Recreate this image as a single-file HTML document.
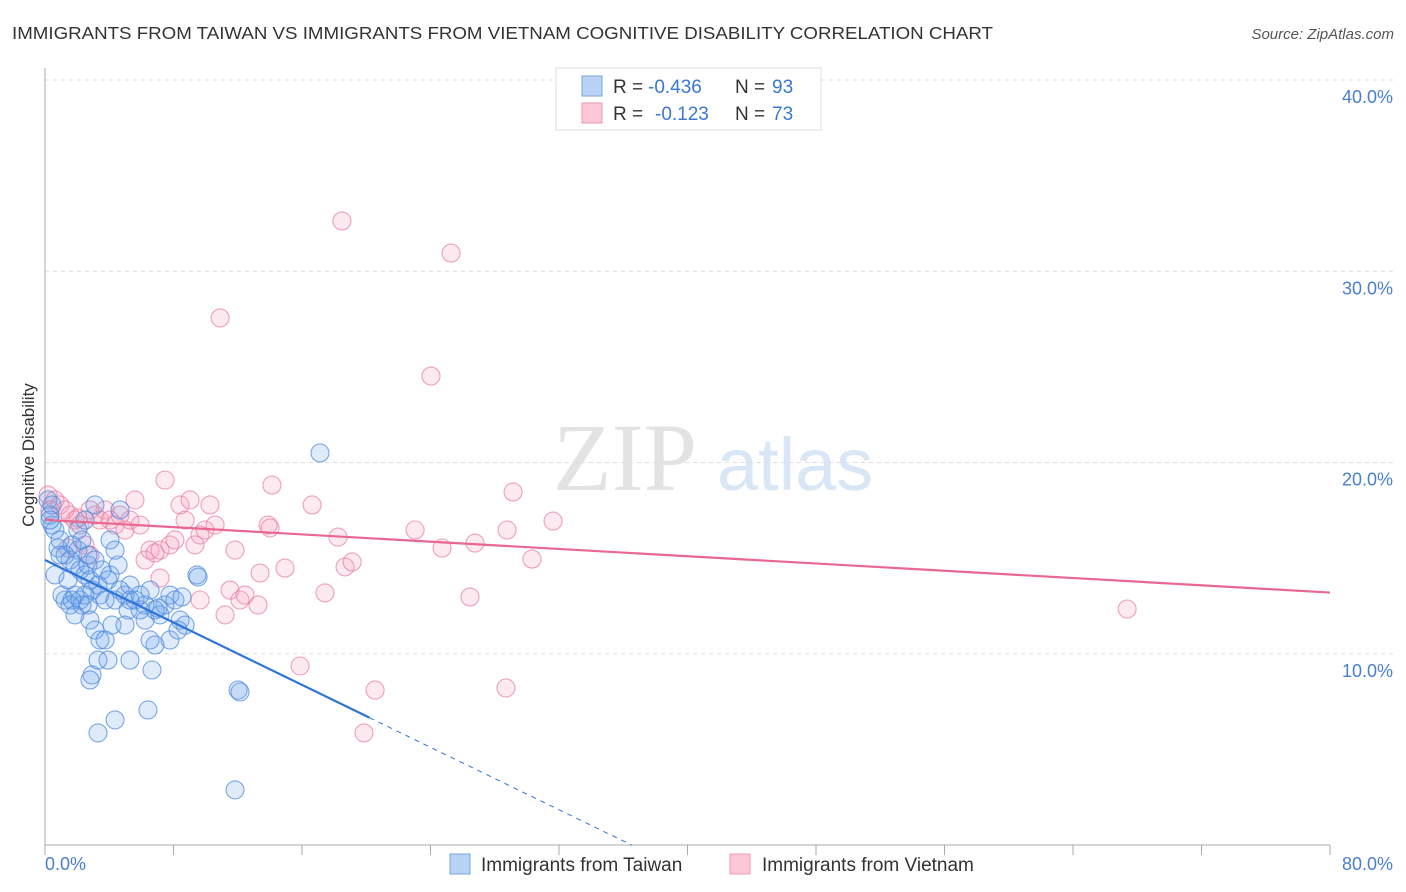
<!DOCTYPE html>
<html><head><meta charset="utf-8"><style>
body{margin:0;background:#fff;font-family:"Liberation Sans",sans-serif}
</style></head><body>
<svg id="chart" width="1406" height="892" xmlns="http://www.w3.org/2000/svg" style="display:block">
<text x="12" y="39" font-size="17.5" fill="#333" textLength="981" lengthAdjust="spacingAndGlyphs">IMMIGRANTS FROM TAIWAN VS IMMIGRANTS FROM VIETNAM COGNITIVE DISABILITY CORRELATION CHART</text>
<text x="1394" y="39" font-size="15" fill="#555" font-style="italic" text-anchor="end">Source: ZipAtlas.com</text>
<g>
<text x="553" y="490" font-family="Liberation Serif,serif" font-size="96" fill="#e3e3e3">ZIP</text>
<text x="717" y="490" font-size="74" fill="#d8e6f5">atlas</text>
</g>
<g id="grid"></g>
<g id="axes"></g>
<g id="pts"></g>
<g id="lines"></g>
<text transform="translate(34,455) rotate(-90)" font-size="17" fill="#333" text-anchor="middle">Cognitive Disability</text>
<g>
<rect x="556" y="68" width="265" height="62" fill="#fff" stroke="#ddd"/>
<rect x="582" y="76" width="20" height="20" fill="#b8d3f5" stroke="#7aa7e0"/>
<rect x="582" y="103" width="20" height="20" fill="#fcc7d6" stroke="#ec9ab3"/>
<text x="613" y="93" font-size="19" fill="#333">R =</text>
<text x="648" y="93" font-size="19" fill="#3a78d4">-0.436</text>
<text x="735" y="93" font-size="19" fill="#333">N =</text>
<text x="772" y="93" font-size="19" fill="#3a78d4">93</text>
<text x="613" y="120" font-size="19" fill="#333">R =</text>
<text x="655" y="120" font-size="19" fill="#3a78d4">-0.123</text>
<text x="735" y="120" font-size="19" fill="#333">N =</text>
<text x="772" y="120" font-size="19" fill="#3a78d4">73</text>
</g>
<g>
<rect x="450" y="854" width="20" height="20" fill="#b8d3f5" stroke="#7aa7e0"/>
<text x="481" y="871" font-size="19" fill="#333">Immigrants from Taiwan</text>
<rect x="730" y="854" width="20" height="20" fill="#fcc7d6" stroke="#ec9ab3"/>
<text x="762" y="871" font-size="19" fill="#333">Immigrants from Vietnam</text>
</g>
</svg>
<script>
const yTicks=[10,20,30,40];
const yTickLabels=["10.0%","20.0%","30.0%","40.0%"];
const xTicks=[0,8,16,24,32,40,48,56,64,72,80];
const taiwanX=[0.19,0.31,0.44,0.62,0.81,0.93,1.25,1.56,1.68,1.87,2.05,2.18,2.49,2.68,2.8,2.93,3.11,3.3,3.42,3.55,3.74,3.92,4.05,4.36,4.55,4.67,4.98,5.17,5.29,5.6,5.92,6.23,6.54,6.85,7.16,7.47,7.78,8.09,8.41,8.72,1.06,1.25,1.56,1.87,2.18,2.3,2.49,2.68,2.8,3.11,3.42,3.74,3.92,3.3,4.17,4.98,5.29,6.54,6.85,6.66,2.93,2.8,4.36,3.3,6.41,12.02,12.14,11.83,17.12,9.46,9.53,6.23,4.67,0.93,0.62,1.43,1.68,2.05,2.3,2.68,2.49,3.11,4.05,4.36,7.78,1.87,0.44,0.31,5.29,5.92,8.28,8.53,7.04];
const taiwanY=[18.04,17.25,16.73,16.47,15.53,15.95,15.16,14.9,15.69,14.64,15.42,14.38,14.12,14.64,13.86,13.33,14.9,13.59,13.07,14.38,12.81,13.86,14.12,12.81,14.64,13.33,13.07,12.29,13.59,12.81,12.29,11.76,13.33,12.29,12.03,12.55,13.07,12.81,11.76,11.5,13.07,12.81,12.55,13.07,12.81,12.55,13.07,12.55,11.76,11.24,10.72,10.72,9.67,9.67,11.5,11.5,9.67,10.72,10.46,9.15,8.89,8.63,6.54,5.86,7.06,8.1,8.0,2.88,20.5,14.12,14.01,12.55,17.52,15.16,14.12,13.86,12.81,16.47,15.95,15.16,16.99,17.78,15.95,15.42,10.72,12.03,17.78,16.99,12.81,13.07,11.24,12.97,12.39];
const vietnamX=[0.19,0.62,0.93,1.25,1.56,1.87,2.18,2.49,2.8,3.11,3.42,3.74,4.05,4.36,4.67,4.98,5.29,5.6,5.92,6.23,6.54,6.85,7.16,7.47,7.78,8.09,8.41,8.72,9.03,9.34,9.65,9.96,10.27,10.59,10.9,11.21,11.52,11.83,12.14,12.45,13.26,13.39,13.89,14.01,14.13,14.94,15.88,16.63,17.43,18.24,18.49,18.68,19.12,20.55,19.86,23.04,24.03,24.72,25.28,26.46,26.77,28.7,28.77,29.14,30.32,31.63,67.37,7.16,9.65,1.43,2.05,2.8,0.31];
const vietnamY=[18.3,18.04,17.78,17.52,17.25,16.99,16.73,15.69,15.16,17.25,16.99,17.52,16.99,16.73,17.25,16.47,16.99,18.04,16.73,14.9,15.42,15.27,15.42,19.08,15.69,15.95,17.78,16.99,18.04,15.69,16.21,16.47,17.78,16.73,27.56,12.03,13.33,15.42,12.81,13.07,12.55,14.22,16.73,16.58,18.82,14.48,9.36,17.78,13.18,16.1,32.63,14.54,14.8,8.1,5.86,16.47,24.52,15.53,30.95,12.97,15.79,8.21,16.47,18.46,14.95,16.94,12.34,13.96,12.81,15.53,17.1,17.52,17.52];
const taiwanTrend=[14.9,-0.408];
const vietnamTrend=[17.0,-0.0475];
const NS="http://www.w3.org/2000/svg";
const X0=45,X1=1330,Y0=845,PXY=19.125;
const sx=v=>X0+(X1-X0)*v/80, sy=v=>Y0-v*PXY;
function mk(tag,attrs,parent){const e=document.createElementNS(NS,tag);for(const k in attrs)e.setAttribute(k,attrs[k]);document.getElementById(parent).appendChild(e);return e;}
yTicks.forEach((t,i)=>{
 const l=mk('line',{x1:X0,x2:1393,y1:sy(t),y2:sy(t),stroke:'#ddd','stroke-dasharray':'4,4'},'grid');
 
 
 const tx=mk('text',{x:1393,y:sy(t)+23,'font-size':18,fill:'#4a7fd0','text-anchor':'end'},'grid');
 tx.textContent=yTickLabels[i];
 
 
});
const ax=mk('line',{x1:X0,x2:X0,y1:68,y2:Y0,stroke:'#aaa'},'axes');


const bx=mk('line',{x1:X0,x2:X1,y1:Y0,y2:Y0,stroke:'#aaa'},'axes');


xTicks.forEach(t=>{
 const l=mk('line',{x1:sx(t),x2:sx(t),y1:Y0,y2:Y0+10,stroke:'#aaa'},'axes');
 
 
});
const xl0=mk('text',{x:45,y:870,'font-size':18,fill:'#4a7fd0'},'axes');xl0.textContent='0.0%';


const xl1=mk('text',{x:1393,y:870,'font-size':18,fill:'#4a7fd0','text-anchor':'end'},'axes');xl1.textContent='80.0%';


function dots(xs,ys,fill,stroke,name){xs.forEach((x,i)=>{
 const c=mk('circle',{cx:sx(x),cy:sy(ys[i]),r:9,fill:fill,stroke:stroke,'stroke-width':1.1},'pts');
 
 
});}
dots(vietnamX,vietnamY,'rgba(245,160,190,0.22)','rgba(232,130,165,0.75)','vietnam-point');
dots(taiwanX,taiwanY,'rgba(110,165,235,0.22)','rgba(80,140,220,0.75)','taiwan-point');
const tl=mk('line',{x1:sx(0),y1:sy(taiwanTrend[0]),x2:sx(20.2),y2:sy(taiwanTrend[0]+taiwanTrend[1]*20.2),stroke:'#2f74d8','stroke-width':2.2},'lines');


const xEnd=-taiwanTrend[0]/taiwanTrend[1];
const td=mk('line',{x1:sx(20.2),y1:sy(taiwanTrend[0]+taiwanTrend[1]*20.2),x2:sx(xEnd),y2:sy(0),stroke:'#2f74d8','stroke-width':1,'stroke-dasharray':'5,5'},'lines');


const vl=mk('line',{x1:sx(0),y1:sy(vietnamTrend[0]),x2:sx(80),y2:sy(vietnamTrend[0]+vietnamTrend[1]*80),stroke:'#e8688f','stroke-width':2.2},'lines');


</script>
</body></html>
